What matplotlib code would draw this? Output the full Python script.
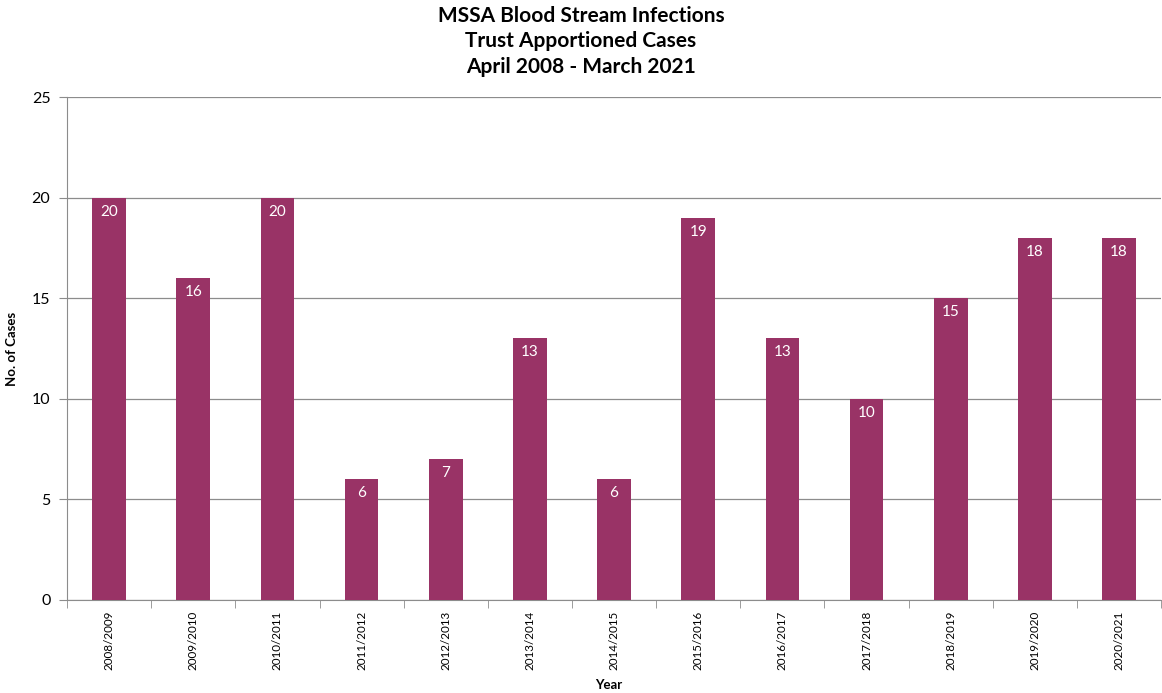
import numpy as np
import matplotlib.pyplot as plt

years = ['2008/2009', '2009/2010', '2010/2011', '2011/2012', '2012/2013',
         '2013/2014', '2014/2015', '2015/2016', '2016/2017', '2017/2018',
         '2018/2019', '2019/2020', '2020/2021']
cases = [20, 16, 20, 6, 7, 13, 6, 19, 13, 10, 15, 18, 18]

plt.rcParams['font.family'] = ['Lato', 'DejaVu Sans']

fig = plt.figure(figsize=(11.62, 6.93), dpi=100)
ax = fig.add_axes([0.0577, 0.1342, 0.9415, 0.7258])

x = np.arange(len(years))
bars = ax.bar(x, cases, width=0.4, color='#993366', zorder=3)

for xi, v in zip(x, cases):
    ax.text(xi, v - 0.35, str(v), ha='center', va='top', color='white',
            fontsize=11, zorder=4)

ax.set_xlim(-0.5, len(years) - 0.5)
ax.set_ylim(0, 25)
ax.set_yticks(range(0, 26, 5))
ax.yaxis.grid(True, color='#8c8c8c', linewidth=0.9, zorder=0)

ax.set_xticks(x)
ax.set_xticklabels(years, rotation=90, fontsize=8.4)
ax.set_xticks(np.arange(-0.5, len(years)), minor=True)
ax.tick_params(axis='x', which='major', length=0, pad=8)
ax.tick_params(axis='x', which='minor', length=6, color='#8c8c8c')
ax.tick_params(axis='y', length=6, color='#8c8c8c', labelsize=11.5, pad=6)

for side in ['top', 'right']:
    ax.spines[side].set_visible(False)
for side in ['left', 'bottom']:
    ax.spines[side].set_color('#8c8c8c')

ax.set_ylabel('No. of Cases', fontsize=9.5, fontweight='bold', labelpad=10)
fig.text(0.5235, 0.003, 'Year', ha='center', va='bottom',
         fontsize=9.5, fontweight='bold')

fig.suptitle('MSSA Blood Stream Infections\nTrust Apportioned Cases\nApril 2008 - March 2021',
             x=0.5, y=0.992, fontsize=15, fontweight='bold', linespacing=1.35)

fig.savefig('out.png', dpi=100)
